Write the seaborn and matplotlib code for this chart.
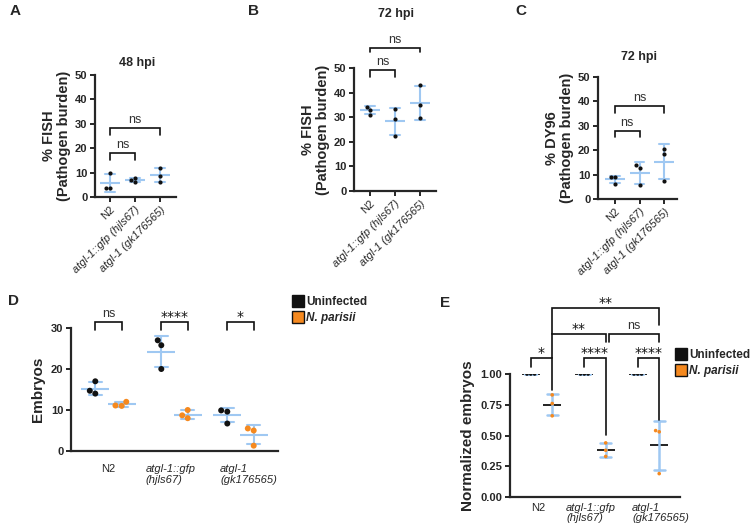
import numpy as np
import pandas as pd
import matplotlib
matplotlib.use("Agg")
import matplotlib.pyplot as plt
import matplotlib.transforms as mtransforms
from matplotlib.lines import Line2D
import seaborn as sns

# ---- data ----
strains = ["N2", "atgl-1::gfp (hjls67)", "atgl-1 (gk176565)"]
strain_labels_de = ["N2", "atgl-1::gfp\n(hjls67)", "atgl-1\n(gk176565)"]
conditions = ["Uninfected", "N. parisii"]

fish_48hpi = [[10.0, 3.7, 3.5], [6.0, 7.0, 7.8], [12.0, 8.5, 6.3]]
fish_72hpi = [[34.2, 33.0, 31.0], [33.4, 29.1, 22.5], [43.0, 35.0, 29.5]]
dy96_72hpi = [[8.9, 9.0, 6.2], [12.8, 13.9, 5.7], [20.4, 18.3, 7.4]]

embryos_uninfected = [[17.0, 14.0, 14.7], [27.0, 25.8, 20.0], [9.6, 9.9, 6.7]]
embryos_infected = [[12.0, 11.0, 11.1], [10.0, 8.0, 8.7], [5.0, 5.5, 1.3]]

norm_uninfected = [[1.0, 1.0, 1.0], [1.0, 1.0, 1.0], [1.0, 1.0, 1.0]]
norm_infected = [[0.83, 0.76, 0.66], [0.44, 0.38, 0.33], [0.54, 0.53, 0.19]]

BLUE = "#9fc8f2"
ORANGE = "#f5891f"
BLACK = "#111111"
W, H = 750, 526


def long_df(groups, cond=None):
    rows = []
    for s, vals in zip(strains, groups):
        for v in vals:
            rows.append({"strain": s, "value": v, "condition": cond})
    return pd.DataFrame(rows)


def px_axes(fig, left, right, top, bottom):
    return fig.add_axes([left / W, 1 - bottom / H, (right - left) / W, (bottom - top) / H])


def bracket(ax, x1, x2, y, y1, y2, text):
    ax.plot([x1, x1, x2, x2], [y1, y, y, y2], color=BLACK, lw=1.2, clip_on=False,
            solid_joinstyle="miter")
    if text == "ns":
        kw = dict(fontsize=9, color="#333333", xytext=(0, 3.5))
    else:
        kw = dict(fontsize=10, family="DejaVu Sans", color=BLACK, xytext=(0, 0.5))
    ax.annotate(text, xy=((x1 + x2) / 2, y), textcoords="offset points",
                ha="center", va="baseline", annotation_clip=False, **kw)


def style_axes(ax):
    sns.despine(ax=ax)
    for sp in ["left", "bottom"]:
        ax.spines[sp].set_linewidth(1.6)
    ax.tick_params(width=1.4, length=3.5, pad=2, labelsize=8)
    for t in ax.get_yticklabels():
        t.set_fontweight("bold")
    ax.set_xlabel("")


def shift_labels(fig, ax, dxs):
    for t, dx in zip(ax.get_xticklabels(), dxs):
        t.set_transform(t.get_transform()
                        + mtransforms.ScaledTranslation(dx / 100, 0, fig.dpi_scale_trans))


sns.set_style("ticks")
plt.rcParams["font.family"] = ["Liberation Sans", "DejaVu Sans"]

fig = plt.figure(figsize=(W / 100, H / 100), dpi=100)

# ---- panels A-C ----
top_panels = [
    ("A", "48 hpi", fish_48hpi, "% FISH\n(Pathogen burden)", (95, 176, 75, 197), 110, 25,
     [(0, 1, 17.9, 15.2), (0, 2, 28.4, 25.4)], (10, 18), 63),
    ("B", "72 hpi", fish_72hpi, "% FISH\n(Pathogen burden)", (354, 436, 68, 191), 370, 25,
     [(0, 1, 49.2, 46.5), (0, 2, 58.0, 56.6)], (248, 18), 14),
    ("C", "72 hpi", dy96_72hpi, "% DY96\n(Pathogen burden)", (598, 677, 77, 199), 615, 24.5,
     [(0, 1, 27.9, 25.5), (0, 2, 38.2, 35.4)], (515, 18), 57),
]

for letter, title, values, ylabel, box, x0, dx, brackets, letter_pos, title_y in top_panels:
    ax = px_axes(fig, *box)
    df = long_df(values)
    sns.pointplot(data=df, x="strain", y="value", order=strains, errorbar="sd",
                  capsize=0.4, color=BLUE, marker="_", markersize=14,
                  markeredgewidth=1.5, linestyle="none", err_kws={"linewidth": 1.5}, ax=ax)
    sns.swarmplot(data=df, x="strain", y="value", order=strains, color=BLACK,
                  size=3, zorder=3, ax=ax)
    ax.set_xlim((box[0] - x0) / dx, (box[1] - x0) / dx)
    ax.set_ylim(0, 50)
    ax.set_yticks([0, 10, 20, 30, 40, 50])
    ax.set_xticks(range(3))
    ax.set_xticklabels(strains, rotation=45, ha="right", rotation_mode="anchor", fontsize=7)
    for i, t in enumerate(ax.get_xticklabels()):
        if i > 0:
            t.set_style("italic")
    style_axes(ax)
    ax.set_ylabel(ylabel, fontsize=10.5, fontweight="bold", labelpad=3, linespacing=1.05)
    for i, j, y, ylegs in brackets:
        bracket(ax, i, j, y, ylegs, ylegs, "ns")
    fig.text((box[0] + box[1]) / 2 / W + 0.002, 1 - title_y / H, title,
             ha="center", va="center", fontsize=9, fontweight="bold")
    fig.text(letter_pos[0] / W, 1 - letter_pos[1] / H, letter, fontsize=11,
             fontweight="bold", va="bottom")

# ---- panel D ----
axd = px_axes(fig, 71, 278, 328, 451)
dfd = pd.concat([long_df(embryos_uninfected, conditions[0]),
                 long_df(embryos_infected, conditions[1])], ignore_index=True)
sns.pointplot(data=dfd, x="strain", y="value", hue="condition", order=strains,
              hue_order=conditions, palette=[BLUE, BLUE], dodge=0.4, errorbar="sd",
              capsize=0.2, marker="_", markersize=20, markeredgewidth=1.5,
              linestyle="none", err_kws={"linewidth": 1.5}, legend=False, ax=axd)
sns.swarmplot(data=dfd, x="strain", y="value", hue="condition", order=strains,
              hue_order=conditions, palette=[BLACK, ORANGE], dodge=True,
              size=4.3, zorder=3, legend=False, ax=axd)
axd.set_xlim((71 - 108.5) / 66, (278 - 108.5) / 66)
axd.set_ylim(0, 30)
axd.set_yticks([0, 10, 20, 30])
axd.set_xticks(range(3))
axd.set_xticklabels(strain_labels_de, fontsize=8, multialignment="left")
for i, t in enumerate(axd.get_xticklabels()):
    if i > 0:
        t.set_style("italic")
style_axes(axd)
axd.tick_params(axis="x", length=0, pad=9)
shift_labels(fig, axd, [0, -4, 8])
axd.set_ylabel("Embryos", fontsize=11, fontweight="bold", labelpad=4)
for k, txt in enumerate(["ns", "****", "*"]):
    bracket(axd, k - 0.2, k + 0.2, 31.5, 29.5, 29.5, txt)
fig.text(8 / W, 1 - 308 / H, "D", fontsize=11, fontweight="bold", va="bottom")

# ---- panel E ----
axe = px_axes(fig, 510, 680, 374, 497)
dfe = pd.concat([long_df(norm_uninfected, conditions[0]),
                 long_df(norm_infected, conditions[1])], ignore_index=True)
sns.pointplot(data=dfe, x="strain", y="value", hue="condition", order=strains,
              hue_order=conditions, palette=[BLACK, BLACK], dodge=0.4, errorbar="sd",
              capsize=0.2, marker="_", markersize=13, markeredgewidth=1.3,
              linestyle="none", err_kws={"linewidth": 1.8, "color": BLUE},
              legend=False, ax=axe)
sns.swarmplot(data=dfe, x="strain", y="value", hue="condition", order=strains,
              hue_order=conditions, palette=[BLACK, ORANGE], dodge=True,
              size=2.6, zorder=3, legend=False, ax=axe)
axe.set_xlim((510 - 541.5) / 53.5, (680 - 541.5) / 53.5)
axe.set_ylim(0, 1.0)
axe.set_yticks([0, 0.25, 0.5, 0.75, 1.0])
axe.set_yticklabels(["0.00", "0.25", "0.50", "0.75", "1.00"])
axe.set_xticks(range(3))
axe.set_xticklabels(strain_labels_de, fontsize=7.5, multialignment="left",
                    linespacing=1.0)
for i, t in enumerate(axe.get_xticklabels()):
    if i > 0:
        t.set_style("italic")
style_axes(axe)
axe.tick_params(axis="x", length=0, pad=4)
shift_labels(fig, axe, [-3, -4, 12])
axe.set_ylabel("Normalized embryos", fontsize=11, fontweight="bold", labelpad=4)
o = 0.2
bracket(axe, -o, o, 1.13, 1.057, 0.87, "*")
bracket(axe, 1 - o, 1 + o, 1.13, 1.057, 0.505, "****")
bracket(axe, 2 - o, 2 + o, 1.13, 1.057, 0.626, "****")
bracket(axe, o, 1 + o, 1.325, 1.13, 1.263, "**")
bracket(axe, 1 + o + 0.06, 2 + o, 1.325, 1.263, 1.263, "ns")
bracket(axe, o, 2 + o, 1.537, 1.325, 1.398, "**")
fig.text(440 / W, 1 - 310 / H, "E", fontsize=11, fontweight="bold", va="bottom")

# ---- legends ----
handles = [Line2D([0], [0], marker="s", linestyle="none", markersize=9,
                  markerfacecolor=c, markeredgecolor=BLACK, markeredgewidth=1)
           for c in [BLACK, ORANGE]]
for anchor in [(287 / W, 1 - 290 / H), (670 / W, 1 - 343 / H)]:
    leg = fig.legend(handles, conditions, loc="upper left", bbox_to_anchor=anchor,
                     frameon=False, borderpad=0, handlelength=0.8, handletextpad=0.3,
                     labelspacing=0.35, prop={"weight": "bold", "size": 8.5})
    leg.get_texts()[1].set_style("italic")

fig.savefig("out.png", dpi=100)
